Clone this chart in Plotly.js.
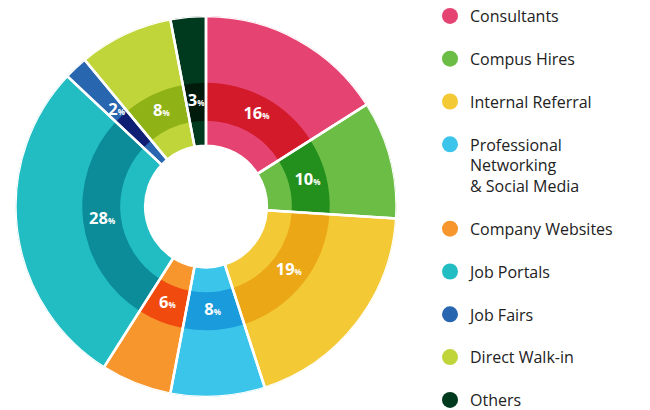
<!DOCTYPE html>
<html>
<head>
<meta charset="utf-8">
<script src="https://cdn.plot.ly/plotly-3.0.1.min.js"></script>
<style>html,body{margin:0;padding:0;background:#fff;}#chart{width:650px;height:410px;}</style>
</head>
<body>
<div id="chart"></div>
<script>
const categories = ['Consultants','Compus Hires','Internal Referral','Professional<br>Networking<br>& Social Media','Company Websites','Job Portals','Job Fairs','Direct Walk-in','Others'];
const values = [16, 10, 19, 8, 6, 28, 2, 8, 3];
const lightColors = ['#E54472','#6BBD45','#F3C935','#3CC5EA','#F7962D','#21BDC3','#2866B0','#C0D53A','#003A1E'];
const darkColors  = ['#D21A2A','#23901E','#EBA716','#1A9BDC','#F14A0E','#0B8C98','#0F1F73','#8FB317','#001A0C'];

// ring radii (radial axis units)
const R_HOLE = 61, R_MID_IN = 86, R_MID_OUT = 124, R_OUT = 191;

const total = values.reduce((a,b)=>a+b,0);
const thetas = [], widths = [];
let cum = 0;
values.forEach(v => {
  thetas.push((cum + v/2) / total * 360);
  widths.push(v / total * 360);
  cum += v;
});
const labels = values.map(v => '<b>' + v + '</b><span style="font-size:8px"><b>%</b></span>');
const labelR = values.map(v => v < 3 ? 131 : (R_MID_IN + R_MID_OUT) / 2);

const traces = [];
// light full sectors
traces.push({
  type:'barpolar', theta:thetas, width:widths,
  base: values.map(()=>R_HOLE), r: values.map(()=>R_OUT-R_HOLE),
  marker:{color:lightColors, line:{width:0}}, showlegend:false, hoverinfo:'skip'
});
// dark middle ring
traces.push({
  type:'barpolar', theta:thetas, width:widths,
  base: values.map(()=>R_MID_IN), r: values.map(()=>R_MID_OUT-R_MID_IN),
  marker:{color:darkColors, line:{width:0}}, showlegend:false, hoverinfo:'skip'
});
// white separators
traces.push({
  type:'barpolar', theta:thetas, width:widths,
  base: values.map(()=>R_HOLE), r: values.map(()=>R_OUT-R_HOLE),
  marker:{color:'rgba(0,0,0,0)', line:{width:2.5, color:'#ffffff'}}, showlegend:false, hoverinfo:'skip'
});
// labels
traces.push({
  type:'scatterpolar', mode:'text', theta:thetas, r: labelR,
  text: labels, textfont:{family:'Open Sans, sans-serif', size:16.5, color:'#ffffff'},
  textposition:'middle center', showlegend:false, hoverinfo:'skip', cliponaxis:false
});
// legend entries
categories.forEach((c,i) => {
  traces.push({
    type:'scatterpolar', mode:'markers', r:[null], theta:[null], name:c,
    legendgroup:'g'+i,
    marker:{color:lightColors[i], size:17, symbol:'circle'}, hoverinfo:'skip'
  });
});

const layout = {
  width:650, height:410,
  margin:{l:0,r:0,t:0,b:0},
  paper_bgcolor:'#ffffff', plot_bgcolor:'#ffffff',
  polar:{
    domain:{x:[15/650, 397/650], y:[1-397/410, 1-15/410]},
    bgcolor:'rgba(0,0,0,0)', bargap:0,
    angularaxis:{visible:false, rotation:90, direction:'clockwise'},
    radialaxis:{visible:false, range:[0, R_OUT]}
  },
  showlegend:true,
  legend:{
    x:430/650, xanchor:'left', y:1 + 1/410, yanchor:'top',
    font:{family:'Open Sans, sans-serif', size:16, color:'#222222'},
    tracegroupgap:19, valign:'top', bgcolor:'rgba(0,0,0,0)',
    maxheight:600
  }
};

Plotly.newPlot('chart', traces, layout, {displayModeBar:false, staticPlot:true});
</script>
</body>
</html>
